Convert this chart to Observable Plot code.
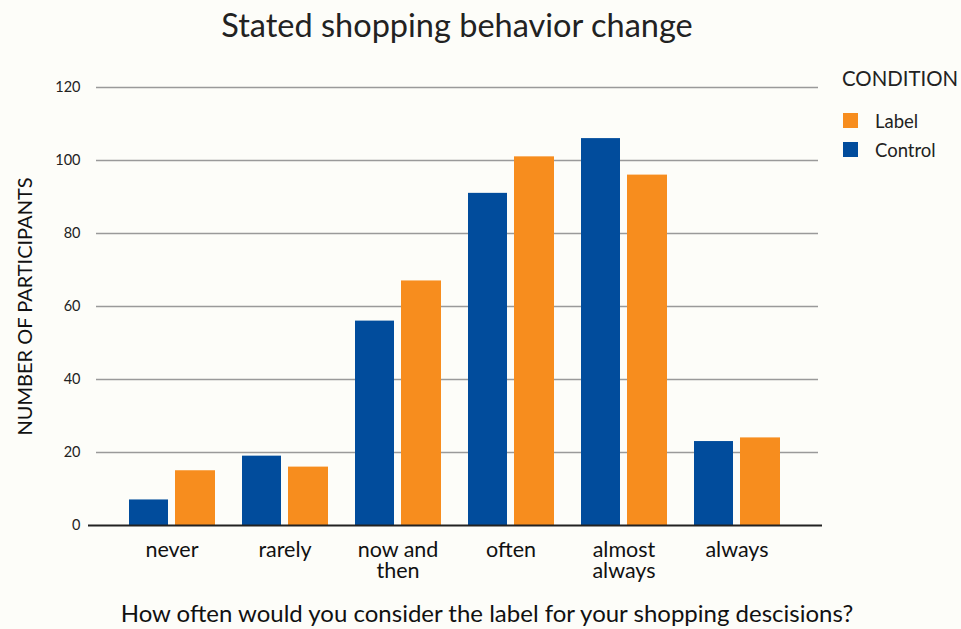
<!DOCTYPE html>
<html>
<head>
<meta charset="utf-8">
<script src="https://cdn.jsdelivr.net/npm/d3@7"></script>
<script src="https://cdn.jsdelivr.net/npm/@observablehq/plot@0.6"></script>
<style>
  html, body { margin: 0; padding: 0; background: #fdfdf9; }
  #wrap { position: relative; width: 961px; height: 629px; overflow: hidden; background: #fdfdf9; font-family: Lato, "Noto Sans", sans-serif; color: #1a1a1a; }
  #title { position: absolute; left: 0; width: 914px; top: 5px; text-align: center; font-size: 32.5px; font-weight: 400; color: #222; line-height: 1.2; }
  #xlabel { position: absolute; left: 0; width: 974px; top: 599px; text-align: center; font-size: 24px; color: #111; line-height: 1.2; }
  #legend { position: absolute; left: 842px; top: 66px; }
  #legend .head { font-size: 20.4px; color: #222; margin-bottom: 16px; line-height: 1.2; }
  #legend .row { display: flex; align-items: center; height: 29px; font-size: 18.5px; color: #222; }
  #legend .sw { width: 15px; height: 15px; margin-right: 17px; margin-left: 1px; }
  #chart { position: absolute; left: 0; top: 0; }
</style>
</head>
<body>
<div id="wrap">
  <div id="chart"></div>
  <div id="title"></div>
  <div id="legend"></div>
  <div id="xlabel"></div>
</div>
<script>
// Answer categories along the x axis
const categories = ["never", "rarely", "now and then", "often", "almost always", "always"];
// Tick labels (line-broken) for each category
const tickLabels = ["never", "rarely", "now and\nthen", "often", "almost\nalways", "always"];
// Participant counts per condition
const controlCounts = [7, 19, 56, 91, 106, 23];
const labelCounts = [15, 16, 67, 101, 96, 24];
// Conditions and their colours (legend order)
const conditions = ["Label", "Control"];
const conditionColors = ["#f78d1e", "#014c9c"];
const yTicks = [0, 20, 40, 60, 80, 100, 120];

const titleText = "Stated shopping behavior change";
const yTitle = "NUMBER OF PARTICIPANTS";
const xTitle = "How often would you consider the label for your shopping descisions?";
const legendTitle = "CONDITION";

const rows = [
  ...categories.map((c, i) => ({category: c, condition: "Control", count: controlCounts[i]})),
  ...categories.map((c, i) => ({category: c, condition: "Label", count: labelCounts[i]}))
];

const chart = Plot.plot({
  width: 961,
  height: 629,
  marginTop: 87,
  marginBottom: 104,
  marginLeft: 96,
  marginRight: 143,
  style: {background: "transparent", fontFamily: "Lato, 'Noto Sans', sans-serif"},
  x: {type: "band", domain: categories, range: [114.4, 793.6], padding: 0, label: null},
  y: {domain: [0, 120], ticks: yTicks, label: null},
  color: {domain: conditions, range: conditionColors},
  marks: [
    Plot.gridY(yTicks.slice(1), {stroke: "#9a9a9a", strokeOpacity: 1, strokeWidth: 1.6}),
    Plot.barY(rows.filter(d => d.condition === "Control"), {x: "category", y: "count", fill: "condition", insetLeft: 14, insetRight: 60}),
    Plot.barY(rows.filter(d => d.condition === "Label"), {x: "category", y: "count", fill: "condition", insetLeft: 60, insetRight: 13}),
    Plot.ruleY([0], {stroke: "#222", strokeWidth: 2, insetLeft: -8, insetRight: -4}),
    Plot.axisY({ticks: yTicks, tickSize: 0, tickPadding: 16, fontSize: 14.5, fill: "#222",
      label: yTitle, labelAnchor: "center", labelArrow: "none", labelOffset: 79}),
    Plot.axisX({tickSize: 0, tickPadding: 16, fontSize: 21.5, fill: "#111", label: null,
      tickFormat: d => tickLabels[categories.indexOf(d)], lineHeight: 1.0})
  ]
});
document.getElementById("chart").appendChild(chart);

// Y axis title styling
d3.select(chart).selectAll("g[aria-label='y-axis label'] text").attr("font-size", 20).attr("fill", "#111");

document.getElementById("title").textContent = titleText;
document.getElementById("xlabel").textContent = xTitle;

const legend = document.getElementById("legend");
const head = document.createElement("div");
head.className = "head";
head.textContent = legendTitle;
legend.appendChild(head);
const colorScale = chart.scale("color");
conditions.forEach((c, i) => {
  const row = document.createElement("div");
  row.className = "row";
  const sw = document.createElement("div");
  sw.className = "sw";
  sw.style.background = colorScale.range[i];
  const t = document.createElement("span");
  t.textContent = c;
  row.appendChild(sw);
  row.appendChild(t);
  legend.appendChild(row);
});
</script>
</body>
</html>
